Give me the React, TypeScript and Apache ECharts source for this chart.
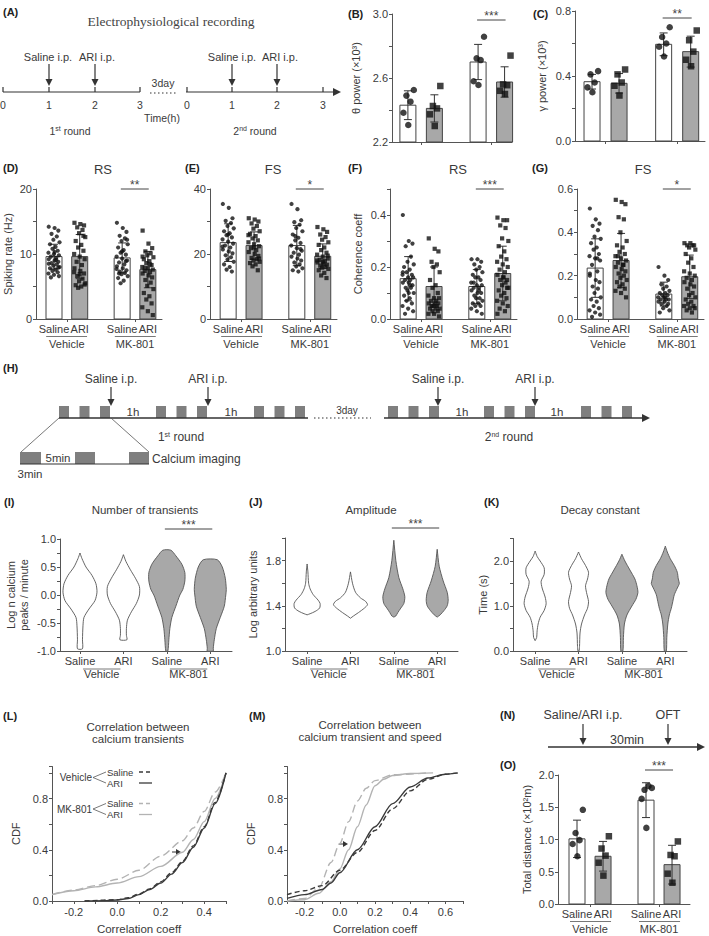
import React, { useEffect, useRef } from "react";
import * as echarts from "echarts";

const W = 709;
const H = 936;
const FONT = '"Liberation Sans", Arial, sans-serif';
const NARROW = '"Liberation Sans Narrow", "Liberation Sans", Arial, sans-serif';
const SERIF = '"Liberation Serif", "Times New Roman", serif';
const TEXT = "#3a3a3a";
const AXIS = "#555";
const GRAY = "#a8a8a8";

// ---------- categories ----------
const BAR_POS = [1, 2, 3.65, 4.65];
const BAR_GROUP_CENTERS = [1.5, 4.15];
const VIOLIN_POS = [1, 2, 3, 4];
const VIOLIN_GROUP_CENTERS = [1.5, 3.5];
const COND_LABELS = ["Saline", "ARI", "Saline", "ARI"];
const GROUP_LABELS = ["Vehicle", "MK-801"];

// ---------- (B) theta power ----------
const thetaMeans = [2.43, 2.41, 2.7, 2.575];
const thetaSD = [0.09, 0.085, 0.11, 0.095];
const thetaPoints = [
  [2.525, 2.49, 2.452, 2.383, 2.306],
  [2.55, 2.425, 2.41, 2.373, 2.3],
  [2.858, 2.723, 2.712, 2.58, 2.556],
  [2.74, 2.56, 2.555, 2.52, 2.5],
];

// ---------- (C) gamma power ----------
const gammaMeans = [0.365, 0.355, 0.595, 0.55];
const gammaSD = [0.045, 0.06, 0.07, 0.095];
const gammaPoints = [
  [0.43, 0.41, 0.36, 0.33, 0.3],
  [0.44, 0.41, 0.36, 0.34, 0.28],
  [0.7, 0.64, 0.6, 0.58, 0.52],
  [0.68, 0.62, 0.55, 0.5, 0.46],
];

// ---------- (D) RS spiking rate ----------
const rsRateMeans = [9.6, 9.6, 9.4, 7.6];
const rsRateSD = [1.9, 3.4, 2.3, 2.8];
const rsRatePoints = [
  [14.2, 14.0, 13.6, 13.1, 12.7, 12.2, 11.8, 11.5, 11.1, 10.8, 10.5, 10.2, 10.0, 9.8, 9.6, 9.4, 9.2, 9.0, 8.8, 8.6, 8.4, 8.2, 8.0, 7.8, 7.6, 7.4, 7.2, 7.0, 6.8, 6.6, 6.4, 9.1, 8.5, 10.3, 7.9],
  [14.8, 14.6, 14.4, 14.1, 13.7, 13.2, 12.6, 12.0, 11.4, 11.0, 10.5, 10.0, 9.6, 9.2, 8.8, 8.3, 7.8, 7.4, 7.0, 6.6, 6.2, 5.8, 5.5, 5.2, 5.0, 4.8, 12.8, 7.2, 6.9, 5.3],
  [14.8, 14.0, 13.4, 12.8, 12.4, 12.0, 11.5, 11.0, 10.6, 10.2, 9.9, 9.6, 9.3, 9.0, 8.7, 8.4, 8.1, 7.8, 7.5, 7.3, 7.1, 6.9, 6.6, 6.3, 5.9, 5.5, 8.9, 7.7, 10.4, 12.2, 7.0],
  [13.6, 11.6, 10.9, 10.4, 10.1, 9.8, 9.5, 9.2, 8.9, 8.6, 8.3, 8.0, 7.8, 7.6, 7.4, 7.2, 7.0, 6.7, 6.4, 6.0, 5.6, 5.1, 4.6, 4.0, 3.5, 3.0, 2.4, 1.8, 1.2, 0.6, 7.9, 8.4, 9.6],
];

// ---------- (E) FS spiking rate ----------
const fsRateMeans = [23.5, 22.6, 22.6, 19.3];
const fsRateSD = [5.8, 4.2, 6.2, 3.8];
const fsRatePoints = [
  [35.4, 34.2, 31.0, 30.2, 29.5, 28.6, 27.9, 27.0, 26.4, 25.8, 25.1, 24.5, 23.8, 23.2, 22.6, 22.0, 21.4, 20.8, 20.2, 19.6, 19.0, 18.3, 17.6, 16.8, 16.0, 15.2, 14.6, 22.3, 26.0],
  [31.0, 30.6, 30.0, 29.4, 28.6, 27.8, 27.0, 26.2, 25.5, 24.8, 24.2, 23.6, 23.0, 22.4, 21.8, 21.2, 20.6, 20.0, 19.4, 18.8, 18.4, 18.0, 17.6, 17.2, 16.8, 16.2, 15.0, 25.8, 22.0, 18.6],
  [35.4, 33.8, 30.4, 29.8, 29.0, 28.0, 27.0, 26.0, 25.0, 24.2, 23.4, 22.6, 21.8, 21.0, 20.4, 19.8, 19.2, 18.6, 18.0, 17.4, 16.8, 16.2, 15.6, 15.0, 14.6, 25.5, 21.5],
  [28.3, 27.6, 26.8, 26.0, 25.2, 24.4, 23.6, 22.8, 22.0, 21.2, 20.4, 19.8, 19.2, 18.6, 18.2, 17.8, 17.4, 17.0, 16.7, 16.4, 16.1, 15.8, 15.4, 15.0, 14.2, 13.4, 12.6, 18.0, 17.6, 19.5],
];

// ---------- (F) RS coherence ----------
const rsCohMeans = [0.155, 0.125, 0.125, 0.175];
const rsCohSD = [0.085, 0.075, 0.065, 0.105];
const rsCohPoints = [
  [0.4, 0.3, 0.29, 0.28, 0.24, 0.22, 0.21, 0.2, 0.19, 0.18, 0.17, 0.17, 0.16, 0.16, 0.15, 0.15, 0.14, 0.14, 0.13, 0.12, 0.12, 0.11, 0.1, 0.09, 0.08, 0.07, 0.06, 0.05, 0.04, 0.03, 0.02, 0.13, 0.18, 0.1],
  [0.31, 0.27, 0.26, 0.22, 0.21, 0.2, 0.18, 0.15, 0.13, 0.12, 0.1, 0.09, 0.08, 0.08, 0.07, 0.07, 0.06, 0.06, 0.06, 0.05, 0.05, 0.05, 0.04, 0.04, 0.04, 0.03, 0.03, 0.02, 0.02, 0.01],
  [0.23, 0.23, 0.22, 0.21, 0.2, 0.19, 0.18, 0.17, 0.16, 0.16, 0.15, 0.14, 0.13, 0.13, 0.12, 0.12, 0.11, 0.1, 0.1, 0.09, 0.08, 0.08, 0.07, 0.06, 0.06, 0.05, 0.05, 0.04, 0.03, 0.02, 0.14, 0.11],
  [0.39, 0.38, 0.38, 0.36, 0.35, 0.31, 0.3, 0.28, 0.26, 0.24, 0.23, 0.22, 0.21, 0.2, 0.19, 0.18, 0.17, 0.16, 0.15, 0.15, 0.14, 0.13, 0.12, 0.11, 0.1, 0.09, 0.08, 0.07, 0.06, 0.05, 0.04, 0.03, 0.02, 0.16, 0.12],
];

// ---------- (G) FS coherence ----------
const fsCohMeans = [0.235, 0.27, 0.115, 0.195];
const fsCohSD = [0.135, 0.125, 0.055, 0.1];
const fsCohPoints = [
  [0.51, 0.46, 0.44, 0.43, 0.41, 0.38, 0.37, 0.35, 0.33, 0.32, 0.3, 0.29, 0.28, 0.27, 0.25, 0.22, 0.2, 0.18, 0.17, 0.15, 0.14, 0.12, 0.1, 0.09, 0.08, 0.06, 0.05, 0.04, 0.03, 0.02, 0.01, 0.28, 0.21],
  [0.55, 0.54, 0.53, 0.47, 0.46, 0.4, 0.36, 0.34, 0.33, 0.31, 0.3, 0.29, 0.28, 0.27, 0.26, 0.25, 0.24, 0.23, 0.22, 0.21, 0.2, 0.19, 0.18, 0.17, 0.16, 0.15, 0.14, 0.13, 0.12, 0.1, 0.29, 0.25],
  [0.24, 0.2, 0.18, 0.16, 0.15, 0.14, 0.13, 0.12, 0.12, 0.11, 0.11, 0.1, 0.1, 0.09, 0.09, 0.09, 0.08, 0.08, 0.07, 0.07, 0.06, 0.05, 0.04, 0.03, 0.1],
  [0.35, 0.35, 0.34, 0.34, 0.34, 0.33, 0.32, 0.3, 0.28, 0.26, 0.24, 0.22, 0.21, 0.2, 0.19, 0.18, 0.17, 0.16, 0.15, 0.14, 0.12, 0.11, 0.1, 0.09, 0.08, 0.07, 0.06, 0.06, 0.05, 0.05, 0.04, 0.03],
];

// ---------- (O) total distance ----------
const distMeans = [1.01, 0.74, 1.61, 0.61];
const distSD = [0.29, 0.23, 0.27, 0.3];
const distPoints = [
  [1.46, 1.1, 0.99, 0.93, 0.74],
  [1.05, 0.86, 0.75, 0.64, 0.44],
  [1.8, 1.77, 1.83, 1.63, 1.18],
  [0.97, 0.76, 0.74, 0.47, 0.33],
];

// ---------- violins: [value, half-width] ----------
const transientViolins = [
  [[0.75, 0], [0.65, 2], [0.5, 6], [0.35, 12], [0.2, 16], [0.05, 17], [-0.1, 15], [-0.25, 9], [-0.4, 4], [-0.55, 3], [-0.8, 2.5], [-0.96, 2.5]],
  [[0.72, 0], [0.6, 2.5], [0.45, 7], [0.3, 12], [0.15, 16], [0.0, 16], [-0.15, 13], [-0.3, 8], [-0.45, 4], [-0.6, 3], [-0.72, 3], [-0.8, 3.5]],
  [[0.8, 4], [0.7, 9], [0.55, 15], [0.4, 18], [0.25, 18], [0.1, 16], [0.0, 13], [-0.2, 9], [-0.4, 5], [-0.6, 3], [-0.8, 2], [-1.0, 1]],
  [[0.63, 7], [0.5, 12], [0.3, 15], [0.1, 16], [0.0, 15.5], [-0.2, 14], [-0.4, 10], [-0.6, 6], [-0.8, 4], [-0.95, 3], [-1.0, 3]],
];
const amplitudeViolins = [
  [[1.77, 0], [1.7, 0.8], [1.6, 1.5], [1.55, 3], [1.5, 6], [1.45, 11], [1.42, 13], [1.38, 12.5], [1.35, 8], [1.33, 3], [1.32, 0]],
  [[1.7, 0], [1.6, 2], [1.52, 5], [1.47, 10], [1.44, 15], [1.41, 17], [1.38, 14], [1.34, 8], [1.31, 3], [1.29, 0]],
  [[1.98, 0], [1.8, 2], [1.65, 5], [1.55, 9], [1.48, 11], [1.42, 10], [1.38, 7], [1.34, 4], [1.31, 2], [1.3, 0]],
  [[1.9, 0], [1.75, 2], [1.62, 6], [1.52, 10], [1.45, 11], [1.4, 10], [1.36, 7], [1.32, 3], [1.3, 0]],
];
const decayViolins = [
  [[2.22, 0], [2.1, 2], [2.0, 5], [1.85, 9], [1.7, 9], [1.55, 6], [1.4, 7], [1.2, 10], [1.05, 11], [0.9, 9], [0.75, 5], [0.6, 3], [0.45, 2], [0.3, 1.5], [0.23, 0]],
  [[2.2, 0], [2.05, 3], [1.9, 7], [1.75, 10], [1.6, 9], [1.45, 7], [1.3, 8], [1.1, 10], [0.95, 9], [0.8, 6], [0.6, 3], [0.4, 1.5], [0.1, 1], [0.0, 0.5]],
  [[2.15, 0], [2.0, 3], [1.8, 8], [1.6, 13], [1.45, 15], [1.3, 16], [1.15, 14], [1.0, 10], [0.8, 5], [0.6, 2.5], [0.3, 1.5], [0.0, 1]],
  [[2.33, 0], [2.2, 2], [2.05, 5], [1.9, 9], [1.75, 12], [1.6, 13], [1.5, 14], [1.4, 12], [1.25, 9], [1.1, 7.5], [0.95, 6], [0.8, 4], [0.6, 2.5], [0.3, 1.5], [0.0, 1]],
];

// ---------- CDF curves ----------
const cdfNames = ["Vehicle Saline", "Vehicle ARI", "MK-801 Saline", "MK-801 ARI"];
const corrTransients = [
  [[-0.15, 0], [0.0, 0.01], [0.05, 0.025], [0.1, 0.055], [0.15, 0.095], [0.2, 0.15], [0.25, 0.22], [0.3, 0.31], [0.35, 0.43], [0.4, 0.58], [0.45, 0.77], [0.5, 1.0]],
  [[-0.15, 0], [-0.05, 0.003], [0.0, 0.008], [0.05, 0.02], [0.1, 0.05], [0.15, 0.09], [0.2, 0.14], [0.25, 0.21], [0.3, 0.3], [0.35, 0.42], [0.4, 0.57], [0.45, 0.76], [0.5, 1.0]],
  [[-0.3, 0.05], [-0.2, 0.085], [-0.1, 0.12], [0.0, 0.17], [0.1, 0.24], [0.2, 0.35], [0.3, 0.47], [0.35, 0.57], [0.4, 0.7], [0.45, 0.85], [0.5, 1.0]],
  [[-0.3, 0.05], [-0.2, 0.08], [-0.1, 0.11], [0.0, 0.14], [0.1, 0.19], [0.2, 0.27], [0.3, 0.38], [0.35, 0.48], [0.4, 0.62], [0.45, 0.8], [0.5, 1.0]],
];
const corrSpeed = [
  [[-0.3, 0.05], [-0.2, 0.08], [-0.1, 0.12], [0.0, 0.24], [0.1, 0.38], [0.2, 0.55], [0.3, 0.72], [0.4, 0.86], [0.5, 0.95], [0.6, 0.99], [0.67, 1.0]],
  [[-0.3, 0.02], [-0.2, 0.05], [-0.1, 0.09], [-0.05, 0.14], [0.0, 0.22], [0.1, 0.4], [0.2, 0.58], [0.3, 0.76], [0.4, 0.89], [0.5, 0.96], [0.6, 0.99], [0.67, 1.0]],
  [[-0.3, 0.0], [-0.2, 0.02], [-0.12, 0.1], [-0.05, 0.3], [0.0, 0.45], [0.05, 0.62], [0.1, 0.78], [0.15, 0.88], [0.2, 0.94], [0.3, 0.985], [0.5, 1.0]],
  [[-0.3, 0.0], [-0.2, 0.01], [-0.12, 0.06], [-0.05, 0.15], [0.0, 0.25], [0.05, 0.4], [0.1, 0.58], [0.15, 0.75], [0.2, 0.9], [0.25, 0.95], [0.3, 0.98], [0.4, 0.995], [0.53, 1.0]],
];

// layout-only jitter pattern for dot placement within a bar (fraction of half bar)
const JIT_SMALL = [0.8, -0.2, 0.35, -0.6, 0.05];
const JIT_MANY = [-0.85, 0.1, 0.7, -0.4, 0.45, -0.1, 0.9, -0.65, 0.25, -0.25, 0.6, -0.9, 0.0, 0.8, -0.5, 0.35];

type G = { left: number; top: number; width: number; height: number; xMin: number; xMax: number; yMin: number; yMax: number };

function buildOption() {
  const grid: any[] = [];
  const xAxis: any[] = [];
  const yAxis: any[] = [];
  const series: any[] = [];
  const graphic: any[] = [];

  const px = (g: G, v: number) => g.left + ((v - g.xMin) / (g.xMax - g.xMin)) * g.width;

  const txt = (x: number, y: number, text: string, o: any = {}) => ({
    type: "text",
    x,
    y,
    silent: true,
    style: {
      text,
      fill: o.fill || TEXT,
      fontSize: o.size || 11,
      fontFamily: o.family || FONT,
      fontWeight: o.weight || "normal",
      textAlign: o.align || "center",
      textVerticalAlign: o.valign || "middle",
      align: o.align || "center",
      verticalAlign: o.valign || "middle",
      rich: o.rich,
    },
  });
  const line = (x1: number, y1: number, x2: number, y2: number, o: any = {}) => ({
    type: "line",
    silent: true,
    shape: { x1, y1, x2, y2 },
    style: { stroke: o.stroke || "#333", lineWidth: o.w || 1, lineDash: o.dash || null },
  });
  const rect = (x: number, y: number, w: number, h: number, fill: string) => ({
    type: "rect",
    silent: true,
    shape: { x, y, width: w, height: h },
    style: { fill },
  });
  const poly = (points: number[][], fill: string) => ({ type: "polygon", silent: true, shape: { points }, style: { fill } });
  const arrowDown = (x: number, y1: number, y2: number) => [
    line(x, y1, x, y2 - 5, { w: 1.2 }),
    poly([[x - 3.5, y2 - 7], [x + 3.5, y2 - 7], [x, y2]], "#333"),
  ];
  const arrowRightHead = (x: number, y: number) => poly([[x - 8, y - 4], [x, y], [x - 8, y + 4]], "#333");
  const letter = (x: number, y: number, s: string) => txt(x, y, s, { weight: "bold", align: "left", size: 11, fill: "#222" });
  const sig = (x1: number, x2: number, y: number, stars: string) => {
    graphic.push(line(x1, y, x2, y, { stroke: "#444", w: 1 }));
    graphic.push(txt((x1 + x2) / 2, y - 4, stars, { size: 12, fill: "#444" }));
  };
  const supRich = { s: { fontSize: 7, fontFamily: NARROW, fill: TEXT, padding: [0, 0, 6, 0] } };

  const yAx = (gi: number, g: G, interval: number, every: number, dec: number, name: string, nameGap: number) => ({
    gridIndex: gi,
    type: "value",
    min: g.yMin,
    max: g.yMax,
    interval,
    axisLine: { show: true, onZero: false, lineStyle: { color: AXIS, width: 1 } },
    axisTick: { show: true, length: 3, lineStyle: { color: AXIS } },
    splitLine: { show: false },
    axisLabel: {
      color: TEXT,
      fontSize: 11,
      fontFamily: FONT,
      margin: 4,
      formatter: (v: number) => {
        const k = Math.round((v - g.yMin) / interval);
        if (Math.abs(v - (g.yMin + k * interval)) > interval * 0.01) return "";
        if (k % every !== 0) return "";
        const vv = Math.abs(v) < 1e-9 ? 0 : v;
        return vv.toFixed(dec);
      },
    },
    name,
    nameLocation: "middle",
    nameGap,
    nameRotate: 90,
    nameTextStyle: { color: TEXT, fontSize: 11, fontFamily: FONT, lineHeight: 13 },
  });

  const xBase = (gi: number, g: G, ticks: number[], labels: number[] | null, fmt: (v: number) => string) => ({
    gridIndex: gi,
    type: "value",
    min: g.xMin,
    max: g.xMax,
    splitLine: { show: false },
    axisLine: { show: true, onZero: false, lineStyle: { color: AXIS, width: 1 } },
    axisTick: { show: true, customValues: ticks, length: 3, lineStyle: { color: AXIS } },
    axisLabel: labels
      ? { show: true, customValues: labels, formatter: fmt, margin: 4, color: TEXT, fontSize: 11, fontFamily: NARROW }
      : { show: false },
  });
  const xGroup = (gi: number, g: G, centers: number[], offset: number) => ({
    gridIndex: gi,
    type: "value",
    min: g.xMin,
    max: g.xMax,
    position: "bottom",
    offset,
    splitLine: { show: false },
    axisLine: { show: false },
    axisTick: { show: false },
    axisLabel: {
      customValues: centers,
      formatter: (v: number) => (v < (g.xMin + g.xMax) / 2 ? GROUP_LABELS[0] : GROUP_LABELS[1]),
      margin: 4,
      color: TEXT,
      fontSize: 11,
      fontFamily: NARROW,
    },
  });
  const barLabel = (v: number) => {
    let best = 0;
    BAR_POS.forEach((p, i) => {
      if (Math.abs(p - v) < Math.abs(BAR_POS[best] - v)) best = i;
    });
    return COND_LABELS[best];
  };
  const violinLabel = (v: number) => COND_LABELS[Math.round(v) - 1] || "";

  // ---------- bar panel ----------
  const barPanel = (p: {
    g: G; interval: number; every: number; dec: number; name: string; nameGap: number;
    means: number[]; sds: number[]; points: number[][]; dot: number; jit: number[]; spread: number;
    labels: boolean; barW: number; stars: string; sigY: number;
  }) => {
    const g = p.g;
    const gi = grid.length;
    grid.push({ left: g.left, top: g.top, width: g.width, height: g.height });
    const xi = xAxis.length;
    xAxis.push(xBase(gi, g, BAR_GROUP_CENTERS, p.labels ? BAR_POS : null, barLabel));
    if (p.labels) xAxis.push(xGroup(gi, g, BAR_GROUP_CENTERS, 15));
    const yi = yAxis.length;
    yAxis.push(yAx(gi, g, p.interval, p.every, p.dec, p.name, p.nameGap));
    const yMin = g.yMin;
    const bw = p.barW;
    series.push({
      type: "custom",
      xAxisIndex: xi,
      yAxisIndex: yi,
      silent: true,
      z: 2,
      data: p.means.map((m, i) => [BAR_POS[i], m, i % 2]),
      renderItem: (_params: any, api: any) => {
        const x = api.value(0);
        const top = api.coord([x, api.value(1)]);
        const base = api.coord([x, yMin]);
        return {
          type: "rect",
          shape: { x: top[0] - bw / 2, y: top[1], width: bw, height: base[1] - top[1] },
          style: { fill: api.value(2) ? GRAY : "#fff", stroke: "#444", lineWidth: 1 },
        };
      },
    });
    series.push({
      type: "custom",
      xAxisIndex: xi,
      yAxisIndex: yi,
      silent: true,
      z: 3,
      data: p.means.map((m, i) => [BAR_POS[i], m, p.sds[i]]),
      renderItem: (_params: any, api: any) => {
        const x = api.value(0);
        const m = api.value(1);
        const s = api.value(2);
        const a = api.coord([x, m + s]);
        const b = api.coord([x, m - s]);
        const c = 4;
        const st = { stroke: "#333", lineWidth: 1 };
        return {
          type: "group",
          children: [
            { type: "line", shape: { x1: a[0], y1: a[1], x2: b[0], y2: b[1] }, style: st },
            { type: "line", shape: { x1: a[0] - c, y1: a[1], x2: a[0] + c, y2: a[1] }, style: st },
            { type: "line", shape: { x1: b[0] - c, y1: b[1], x2: b[0] + c, y2: b[1] }, style: st },
          ],
        };
      },
    });
    const mk = (i: number) =>
      p.points[i].map((v, j) => [BAR_POS[i] + p.jit[j % p.jit.length] * p.spread, v]);
    series.push({
      type: "scatter",
      xAxisIndex: xi,
      yAxisIndex: yi,
      silent: true,
      z: 4,
      symbol: "circle",
      symbolSize: p.dot,
      itemStyle: { color: "#111" },
      data: mk(0).concat(mk(2)),
    });
    series.push({
      type: "scatter",
      xAxisIndex: xi,
      yAxisIndex: yi,
      silent: true,
      z: 4,
      symbol: "rect",
      symbolSize: p.dot,
      itemStyle: { color: "#111" },
      data: mk(1).concat(mk(3)),
    });
    sig(px(g, BAR_POS[2]) - 1, px(g, BAR_POS[3]) + 1, p.sigY, p.stars);
    if (p.labels) {
      const ly = g.top + g.height + 17.5;
      graphic.push(line(px(g, BAR_POS[0]) - 7, ly, px(g, BAR_POS[1]) + 8, ly, { stroke: "#555", w: 0.8 }));
      graphic.push(line(px(g, BAR_POS[2]) - 7, ly, px(g, BAR_POS[3]) + 8, ly, { stroke: "#555", w: 0.8 }));
    }
  };

  // ---------- violin panel ----------
  const violinPanel = (p: {
    g: G; interval: number; every: number; dec: number; name: string; nameGap: number;
    profiles: number[][][]; stars: string | null;
  }) => {
    const g = p.g;
    const gi = grid.length;
    grid.push({ left: g.left, top: g.top, width: g.width, height: g.height });
    const xi = xAxis.length;
    xAxis.push(xBase(gi, g, VIOLIN_POS, VIOLIN_POS, violinLabel));
    xAxis.push(xGroup(gi, g, VIOLIN_GROUP_CENTERS, 13));
    const yi = yAxis.length;
    yAxis.push(yAx(gi, g, p.interval, p.every, p.dec, p.name, p.nameGap));
    const profiles = p.profiles;
    series.push({
      type: "custom",
      xAxisIndex: xi,
      yAxisIndex: yi,
      silent: true,
      data: VIOLIN_POS.map((x) => [x, 0]),
      renderItem: (params: any, api: any) => {
        const idx = params.dataIndex;
        const prof = profiles[idx];
        const x = api.value(0);
        const right = prof.map(([v, d]) => {
          const c = api.coord([x, v]);
          return [c[0] + d, c[1]];
        });
        const left = prof
          .slice()
          .reverse()
          .map(([v, d]) => {
            const c = api.coord([x, v]);
            return [c[0] - d, c[1]];
          });
        return {
          type: "polygon",
          shape: { points: right.concat(left), smooth: 0.25 },
          style: { fill: idx >= 2 ? GRAY : "#fff", stroke: "#555", lineWidth: 0.9 },
        };
      },
    });
    if (p.stars) sig(px(g, 3) - 2, px(g, 4) + 2, g.top - 10, p.stars);
    const ly = g.top + g.height + 18;
    graphic.push(line(px(g, 1) + 3, ly, px(g, 2) - 3, ly, { stroke: "#555", w: 0.8 }));
    graphic.push(line(px(g, 3) + 3, ly, px(g, 4) - 3, ly, { stroke: "#555", w: 0.8 }));
  };

  // ---------- CDF panel ----------
  const cdfPanel = (g: G, curves: number[][][], nameGap: number) => {
    const gi = grid.length;
    grid.push({ left: g.left, top: g.top, width: g.width, height: g.height });
    const xi = xAxis.length;
    xAxis.push({
      gridIndex: gi,
      type: "value",
      min: g.xMin,
      max: g.xMax,
      interval: 0.1,
      splitLine: { show: false },
      axisLine: { show: true, onZero: false, lineStyle: { color: AXIS, width: 1 } },
      axisTick: { show: true, length: 3, lineStyle: { color: AXIS } },
      axisLabel: {
        color: TEXT,
        fontSize: 11,
        fontFamily: FONT,
        margin: 5,
        formatter: (v: number) => {
          const k = Math.round(v * 10);
          if (Math.abs(v * 10 - k) > 0.01) return "";
          if (k % 2 !== 0) return "";
          return (k === 0 ? 0 : v).toFixed(1);
        },
      },
      name: "Correlation coeff",
      nameLocation: "middle",
      nameGap: 22,
      nameTextStyle: { color: TEXT, fontSize: 11.5, fontFamily: FONT },
    });
    const yi = yAxis.length;
    yAxis.push(yAx(gi, g, 0.2, 2, 1, "CDF", nameGap));
    const styles = [
      { color: "#3a3a3a", type: [5, 3] },
      { color: "#3a3a3a", type: "solid" },
      { color: "#b3b3b3", type: [8, 4] },
      { color: "#b3b3b3", type: "solid" },
    ];
    curves.forEach((c, i) => {
      series.push({
        type: "line",
        name: cdfNames[i],
        xAxisIndex: xi,
        yAxisIndex: yi,
        silent: true,
        showSymbol: false,
        smooth: 0.3,
        smoothMonotone: "x",
        data: c,
        lineStyle: { color: styles[i].color, width: 1.4, type: styles[i].type },
        z: i < 2 ? 3 : 2,
      });
    });
  };

  // ===== (A) =====
  graphic.push(letter(3, 12, "(A)"));
  graphic.push(txt(171, 21, "Electrophysiological recording", { family: SERIF, size: 13.5, fill: "#444" }));
  graphic.push(line(3, 92, 140, 92, { w: 1.2 }));
  [3, 49, 95, 140].forEach((x, i) => {
    graphic.push(line(x, 87, x, 92, { w: 1.2 }));
    graphic.push(txt(x, 105, String(i), { size: 10.5 }));
  });
  graphic.push(line(150, 93, 178, 93, { w: 1.2, dash: [1.5, 2.5] }));
  graphic.push(txt(163, 83, "3day", { size: 10.5 }));
  graphic.push(line(186, 92, 336, 92, { w: 1.2 }));
  graphic.push(arrowRightHead(341, 92));
  [187, 232, 277, 323].forEach((x, i) => {
    graphic.push(line(x, 87, x, 92, { w: 1.2 }));
    graphic.push(txt(x, 105, String(i), { size: 10.5 }));
  });
  [49, 95, 232, 277].forEach((x) => graphic.push(...arrowDown(x, 64, 86)));
  graphic.push(txt(48, 57, "Saline i.p.", { size: 11 }));
  graphic.push(txt(97, 57, "ARI i.p.", { size: 11 }));
  graphic.push(txt(232, 57, "Saline i.p.", { size: 11 }));
  graphic.push(txt(280, 57, "ARI i.p.", { size: 11 }));
  graphic.push(txt(162, 118, "Time(h)", { size: 10.5 }));
  graphic.push(txt(70, 131, "1{s|st} round", { size: 10.5, rich: supRich }));
  graphic.push(txt(255, 131, "2{s|nd} round", { size: 10.5, rich: supRich }));

  // ===== (B) (C) =====
  graphic.push(letter(348, 14, "(B)"));
  graphic.push(letter(533, 14, "(C)"));
  barPanel({
    g: { left: 392, top: 14, width: 120, height: 128, xMin: 0.4, xMax: 4.93, yMin: 2.2, yMax: 3.0 },
    interval: 0.2, every: 2, dec: 1, name: "θ power (×10³)", nameGap: 30,
    means: thetaMeans, sds: thetaSD, points: thetaPoints, dot: 6.5, jit: JIT_SMALL, spread: 0.28,
    labels: false, barW: 16, stars: "***", sigY: 20,
  });
  barPanel({
    g: { left: 575, top: 11, width: 130, height: 130, xMin: 0.37, xMax: 5.18, yMin: 0, yMax: 0.8 },
    interval: 0.2, every: 2, dec: 1, name: "γ power (×10³)", nameGap: 27,
    means: gammaMeans, sds: gammaSD, points: gammaPoints, dot: 6.5, jit: JIT_SMALL, spread: 0.28,
    labels: false, barW: 16, stars: "**", sigY: 18,
  });

  // ===== (D)-(G) =====
  graphic.push(letter(3, 168, "(D)"));
  graphic.push(letter(185, 168, "(E)"));
  graphic.push(letter(348, 168, "(F)"));
  graphic.push(letter(532, 168, "(G)"));
  graphic.push(txt(103, 169, "RS", { size: 13 }));
  graphic.push(txt(273, 169, "FS", { size: 13 }));
  graphic.push(txt(458, 169, "RS", { size: 13 }));
  graphic.push(txt(643, 169, "FS", { size: 13 }));
  const rowTop = 189;
  const rowH = 130;
  barPanel({
    g: { left: 35, top: rowTop, width: 127, height: rowH, xMin: 0.3, xMax: 5.2, yMin: 0, yMax: 20 },
    interval: 5, every: 2, dec: 0, name: "Spiking rate (Hz)", nameGap: 22,
    means: rsRateMeans, sds: rsRateSD, points: rsRatePoints, dot: 4.2, jit: JIT_MANY, spread: 0.24,
    labels: true, barW: 16, stars: "**", sigY: rowTop,
  });
  barPanel({
    g: { left: 210, top: rowTop, width: 127, height: rowH, xMin: 0.3, xMax: 5.2, yMin: 0, yMax: 40 },
    interval: 10, every: 2, dec: 0, name: "", nameGap: 22,
    means: fsRateMeans, sds: fsRateSD, points: fsRatePoints, dot: 4.2, jit: JIT_MANY, spread: 0.24,
    labels: true, barW: 16, stars: "*", sigY: rowTop,
  });
  barPanel({
    g: { left: 390, top: rowTop, width: 127, height: rowH, xMin: 0.3, xMax: 5.2, yMin: 0, yMax: 0.5 },
    interval: 0.1, every: 2, dec: 1, name: "Coherence coeff", nameGap: 26,
    means: rsCohMeans, sds: rsCohSD, points: rsCohPoints, dot: 4.2, jit: JIT_MANY, spread: 0.24,
    labels: true, barW: 16, stars: "***", sigY: rowTop,
  });
  barPanel({
    g: { left: 577, top: rowTop, width: 127, height: rowH, xMin: 0.3, xMax: 5.2, yMin: 0, yMax: 0.6 },
    interval: 0.1, every: 2, dec: 1, name: "", nameGap: 26,
    means: fsCohMeans, sds: fsCohSD, points: fsCohPoints, dot: 4.2, jit: JIT_MANY, spread: 0.24,
    labels: true, barW: 16, stars: "*", sigY: rowTop,
  });

  // ===== (H) =====
  graphic.push(letter(3, 368, "(H)"));
  const blockStarts = [59, 156, 254, 388, 484, 581];
  blockStarts.forEach((s) => [0, 20.5, 41].forEach((o) => graphic.push(rect(s + o, 406, 10, 12, "#7f7f7f"))));
  graphic.push(line(59, 418, 308, 418, { w: 1.3 }));
  graphic.push(line(314, 418, 371, 418, { w: 1.2, dash: [1.5, 2.5] }));
  graphic.push(txt(347, 410, "3day", { size: 10, family: NARROW }));
  graphic.push(line(384, 418, 644, 418, { w: 1.3 }));
  graphic.push(arrowRightHead(650, 418));
  [133, 231, 462, 557].forEach((x) => graphic.push(txt(x, 412, "1h", { size: 11.5, family: NARROW })));
  [111, 208, 438, 535].forEach((x) => graphic.push(...arrowDown(x, 387, 406)));
  graphic.push(txt(111, 379, "Saline i.p.", { size: 12, family: NARROW }));
  graphic.push(txt(208, 379, "ARI i.p.", { size: 12, family: NARROW }));
  graphic.push(txt(438, 379, "Saline i.p.", { size: 12, family: NARROW }));
  graphic.push(txt(535, 379, "ARI i.p.", { size: 12, family: NARROW }));
  graphic.push(txt(181, 437, "1{s|st} round", { size: 12, family: NARROW, rich: supRich }));
  graphic.push(txt(509, 437, "2{s|nd} round", { size: 12, family: NARROW, rich: supRich }));
  graphic.push(line(59, 418, 21, 452, { w: 0.8, stroke: "#555" }));
  graphic.push(line(111, 418, 149, 452, { w: 0.8, stroke: "#555" }));
  graphic.push(rect(20, 452, 21, 12, "#7f7f7f"));
  graphic.push(rect(75, 452, 20, 12, "#7f7f7f"));
  graphic.push(rect(129, 452, 20, 12, "#7f7f7f"));
  graphic.push(line(20, 464, 149, 464, { w: 1.2 }));
  graphic.push(txt(58, 458, "5min", { size: 11.5, family: NARROW }));
  graphic.push(txt(152, 459, "Calcium imaging", { size: 12, family: NARROW, align: "left" }));
  graphic.push(txt(30, 474, "3min", { size: 11.5, family: NARROW }));

  // ===== (I) (J) (K) =====
  graphic.push(letter(4, 502, "(I)"));
  graphic.push(letter(249, 502, "(J)"));
  graphic.push(letter(484, 502, "(K)"));
  graphic.push(txt(145, 510, "Number of transients", { size: 11.5, family: NARROW }));
  graphic.push(txt(371, 510, "Amplitude", { size: 11.5, family: NARROW }));
  graphic.push(txt(600, 510, "Decay constant", { size: 11.5, family: NARROW }));
  violinPanel({
    g: { left: 60, top: 539, width: 172, height: 112, xMin: 0.54, xMax: 4.5, yMin: -1, yMax: 1 },
    interval: 0.25, every: 2, dec: 1, name: "Log n calcium\npeaks / minute", nameGap: 30,
    profiles: transientViolins, stars: "***",
  });
  violinPanel({
    g: { left: 285, top: 538, width: 173, height: 113, xMin: 0.49, xMax: 4.48, yMin: 1.0, yMax: 2.0 },
    interval: 0.2, every: 2, dec: 1, name: "Log arbitrary units", nameGap: 26,
    profiles: amplitudeViolins, stars: "***",
  });
  violinPanel({
    g: { left: 513, top: 538.5, width: 174, height: 112.5, xMin: 0.49, xMax: 4.5, yMin: 0, yMax: 2.5 },
    interval: 0.5, every: 2, dec: 1, name: "Time (s)", nameGap: 24,
    profiles: decayViolins, stars: null,
  });

  // ===== (L) (M) =====
  graphic.push(letter(3, 716, "(L)"));
  graphic.push(letter(249, 716, "(M)"));
  graphic.push(txt(138, 727, "Correlation between", { size: 11.5 }));
  graphic.push(txt(138, 739, "calcium transients", { size: 11.5 }));
  graphic.push(txt(370, 725, "Correlation between", { size: 11.5 }));
  graphic.push(txt(370, 737, "calcium transient and speed", { size: 11.5 }));
  cdfPanel({ left: 52, top: 766.5, width: 174, height: 136.5, xMin: -0.3, xMax: 0.5, yMin: 0, yMax: 1.05 }, corrTransients, 30);
  cdfPanel({ left: 287, top: 766.5, width: 176, height: 136.5, xMin: -0.3, xMax: 0.7, yMin: 0, yMax: 1.05 }, corrSpeed, 30);
  // legend of (L)
  const legend = (label: string, y: number, color: string) => {
    graphic.push(txt(92, y, label, { size: 10, align: "right" }));
    graphic.push(line(93, y, 106, y - 5.5, { stroke: "#555", w: 0.8 }));
    graphic.push(line(93, y, 106, y + 5.5, { stroke: "#555", w: 0.8 }));
    graphic.push(txt(107, y - 5.5, "Saline", { size: 9.5, align: "left" }));
    graphic.push(txt(107, y + 5.5, "ARI", { size: 9.5, align: "left" }));
    graphic.push(line(139, y - 5.5, 152, y - 5.5, { stroke: color, w: 1.3, dash: [4, 3] }));
    graphic.push(line(139, y + 5.5, 152, y + 5.5, { stroke: color, w: 1.3 }));
  };
  legend("Vehicle", 777.5, "#3a3a3a");
  legend("MK-801", 809, "#b3b3b3");
  // small arrows
  graphic.push(line(172, 852, 178, 852, { w: 1 }));
  graphic.push(poly([[176, 849], [181, 852], [176, 855]], "#333"));
  graphic.push(line(339, 844, 345, 844, { w: 1 }));
  graphic.push(poly([[343, 841], [348, 844], [343, 847]], "#333"));

  // ===== (N) =====
  graphic.push(letter(500, 715, "(N)"));
  graphic.push(txt(583, 715, "Saline/ARI i.p.", { size: 12.5 }));
  graphic.push(txt(668, 715, "OFT", { size: 12.5 }));
  graphic.push(...arrowDown(583, 724, 745));
  graphic.push(...arrowDown(668, 724, 745));
  graphic.push(line(548, 747, 699, 747, { w: 1.3 }));
  graphic.push(arrowRightHead(705, 747));
  graphic.push(txt(627, 740, "30min", { size: 12.5 }));

  // ===== (O) =====
  graphic.push(letter(500, 765, "(O)"));
  barPanel({
    g: { left: 558, top: 775, width: 132, height: 129, xMin: 0.27, xMax: 5.34, yMin: 0, yMax: 2.0 },
    interval: 0.5, every: 1, dec: 1, name: "Total distance (×10²m)", nameGap: 25,
    means: distMeans, sds: distSD, points: distPoints, dot: 6.5, jit: JIT_SMALL, spread: 0.28,
    labels: true, barW: 16, stars: "***", sigY: 770,
  });

  return {
    backgroundColor: "#fff",
    animation: false,
    textStyle: { fontFamily: FONT },
    grid,
    xAxis,
    yAxis,
    series,
    graphic: { elements: graphic },
  };
}

export default function App() {
  const ref = useRef<HTMLDivElement>(null);
  useEffect(() => {
    if (!ref.current) return;
    const chart = echarts.init(ref.current, null, { renderer: "svg", width: W, height: H });
    chart.setOption(buildOption() as any);
    return () => chart.dispose();
  }, []);
  return (
    <div
      ref={ref}
      style={{ position: "absolute", left: 0, top: 0, width: W, height: H, background: "#fff" }}
    />
  );
}
